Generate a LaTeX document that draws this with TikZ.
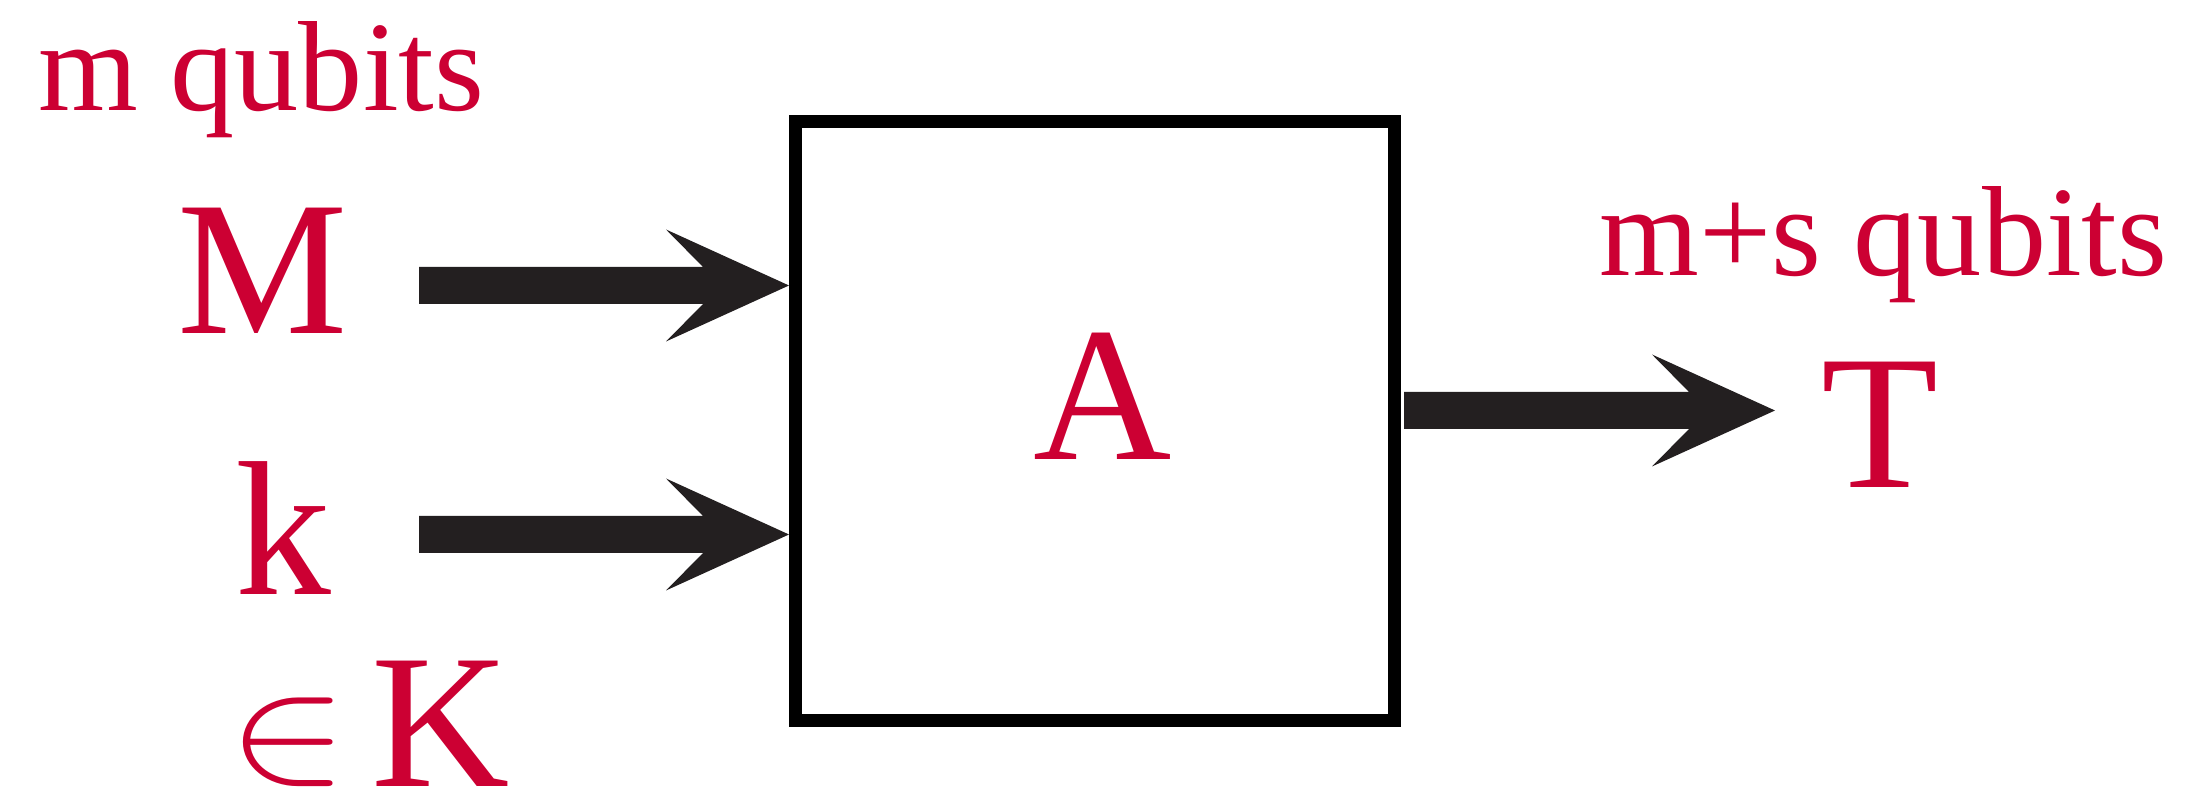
\documentclass[tikz,border=0pt]{standalone}
\usepackage{fontspec}
\usepackage{graphicx}
\setmainfont{Liberation Serif}
\usetikzlibrary{calc}
\definecolor{txtred}{RGB}{204,0,51}
\definecolor{arrowfill}{RGB}{35,31,32}
\newcommand{\blockarr}[2]{%
  \fill[arrowfill] ($(#1)+(0,-18.5)$) -- ($(#2)+(-86,-18.5)$) -- ($(#2)+(-123,-56)$)
    -- (#2) -- ($(#2)+(-123,56)$) -- ($(#2)+(-86,18.5)$) -- ($(#1)+(0,18.5)$) -- cycle;}
\tikzset{
  bigtxt/.style={text=txtred, inner sep=0pt, anchor=base, font=\fontsize{54.5}{60}\selectfont},
  smalltxt/.style={text=txtred, inner sep=0pt, anchor=base, font=\fontsize{36.5}{40}\selectfont},
  blockbox/.style={draw=black, line width=1.3mm, minimum width=59.9mm, minimum height=59.9mm, inner sep=0pt}
}
\begin{document}
\begin{tikzpicture}[x=0.1mm, y=-0.1mm]
\useasboundingbox (0,0) rectangle (2188,797);
% box
\node[blockbox] (box) at (1095,421) {};
\node[bigtxt] (A) at (1103,460) {A};
% inputs
\node[smalltxt] (mq) at (261.5,111) {m qubits};
\node[bigtxt] (M) at (262.5,334) {M};
\node[bigtxt] (k) at (283.5,595) {k};
\node[text=txtred, inner sep=0pt, font=\fontsize{10}{12}\selectfont] (elem) at (288,742.5) {\scalebox{5.1}[4.35]{$\in$}};
\node[bigtxt] (K) at (441,787) {K};
% output
\node[smalltxt] (msq) at (1883.5,276) {m+s qubits};
\node[bigtxt] (T) at (1879.5,488) {T};
% arrow coordinates
\coordinate (s1) at (419,285.5);
\coordinate (s2) at (419,534.5);
\coordinate (t1) at (box.west |- s1);
\coordinate (t2) at (box.west |- s2);
\coordinate (so) at ($(box.east |- 0,410.5)+(3,0)$);
\coordinate (to) at (1775,410.5);
\blockarr{s1}{t1}
\blockarr{s2}{t2}
\blockarr{so}{to}
\end{tikzpicture}
\end{document}
